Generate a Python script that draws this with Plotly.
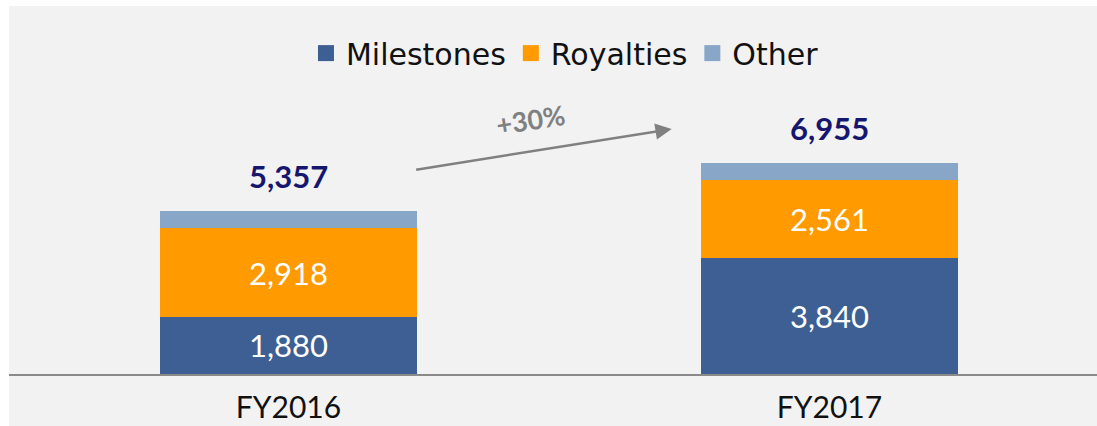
import plotly.graph_objects as go

categories = ["FY2016", "FY2017"]
milestones = [1880, 3840]
royalties = [2918, 2561]
other = [559, 554]
totals = [m + r + o for m, r, o in zip(milestones, royalties, other)]

C_MIL = "#3e5f93"
C_ROY = "#ff9a00"
C_OTH = "#88a6c8"
BG = "#f2f2f2"
FONT = "Lato"
LFONT = "DejaVu Sans"

fig = go.Figure()

for name, vals, col, show in [("Milestones", milestones, C_MIL, True),
                               ("Royalties", royalties, C_ROY, True),
                               ("Other", other, C_OTH, False)]:
    fig.add_trace(go.Bar(
        x=categories, y=vals, name=name, marker=dict(color=col, line=dict(width=0)),
        width=0.475, showlegend=False,
        text=[f"{v:,}" for v in vals] if show else None,
        textposition="inside" if show else "none",
        insidetextanchor="middle", constraintext="none",
        textfont=dict(color="white", size=31, family=FONT),
        hoverinfo="skip",
    ))

# legend proxies
for name, col in [("Milestones", C_MIL), ("Royalties", C_ROY), ("Other", C_OTH)]:
    fig.add_trace(go.Scatter(
        x=[None], y=[None], mode="markers", name=name,
        marker=dict(symbol="square", size=17, color=col),
    ))

# totals
for cat, t in zip(categories, totals):
    fig.add_annotation(x=cat, y=t, text=f"<b>{t:,}</b>", showarrow=False,
                       yanchor="bottom", yshift=14,
                       font=dict(size=31, color="#16166e", family=FONT))

growth = totals[1] / totals[0] - 1
fig.add_annotation(x=0.7083, y=8076, ax=-257, ay=41, axref="pixel", ayref="pixel",
                   text="", showarrow=True, arrowhead=2, arrowsize=1.3,
                   arrowwidth=2.5, arrowcolor="#808080")
fig.add_annotation(x=0.4480, y=8400, text=f"<b>+{growth*100:.0f}%</b>", showarrow=False,
                   textangle=-9, font=dict(size=27, color="#808080", family=FONT))

# gray band below plot area
fig.add_shape(type="rect", xref="paper", yref="paper", x0=0, x1=1, y0=-52/368, y1=0,
              fillcolor=BG, line=dict(width=0), layer="below")

fig.update_layout(
    width=1097, height=426,
    margin=dict(l=9, r=0, t=6, b=52, autoexpand=False),
    paper_bgcolor="white", plot_bgcolor=BG,
    barmode="stack",
    font=dict(family=FONT, color="#111111"),
    legend=dict(orientation="h", x=0.511, xanchor="center", y=0.872, yanchor="middle",
                bgcolor="rgba(0,0,0,0)", font=dict(size=30, color="#111111", family=LFONT),
                itemwidth=30, traceorder="normal"),
    xaxis=dict(range=[-0.5166, 1.4945], showgrid=False, zeroline=False, automargin=False,
               showline=True, linecolor="#8a8a8a", linewidth=2,
               ticks="outside", ticklen=6, tickcolor="rgba(0,0,0,0)",
               tickfont=dict(size=30, color="#111111", family=FONT)),
    yaxis=dict(range=[0, 12130], visible=False, automargin=False),
)

fig.write_html("out.html", config={"displayModeBar": False},
               post_script="document.body.style.margin='0';document.body.style.overflow='hidden';")
